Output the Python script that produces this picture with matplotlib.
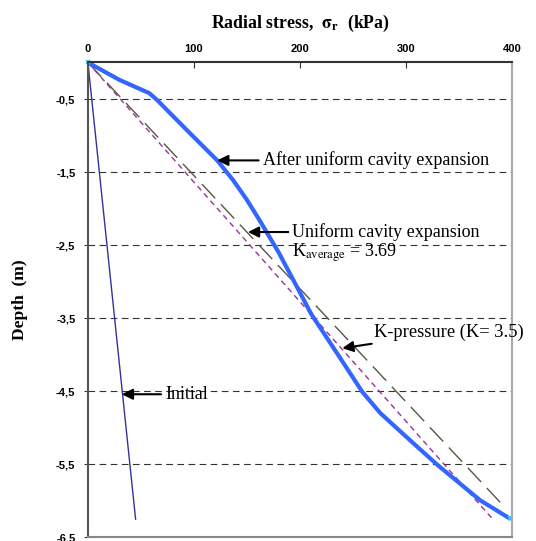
import matplotlib
matplotlib.use('Agg')
import matplotlib.pyplot as plt

# Radial stress (kPa) vs depth (m)
after_x = [0, 30, 58, 65, 93, 122, 137, 150, 162, 180, 195, 211, 236, 259, 276, 307, 330, 370, 398]
after_y = [0, -0.24, -0.42, -0.51, -0.92, -1.34, -1.61, -1.88, -2.16, -2.6, -3.01, -3.45, -4.0, -4.51,
           -4.8, -5.21, -5.51, -5.99, -6.24]
uniform_x = [0, 382]
uniform_y = [0, -6.25]
kpress_x = [0, 391]
kpress_y = [0, -6.05]
initial_x = [0, 45]
initial_y = [0, -6.25]

xticks = [0, 100, 200, 300, 400]
yticks = [-0.5, -1.5, -2.5, -3.5, -4.5, -5.5, -6.5]
ytick_labels = ['-0,5', '-1,5', '-2,5', '-3,5', '-4,5', '-5,5', '-6,5']

serif = 'Liberation Serif'
plt.rcParams['mathtext.fontset'] = 'stix'

fig = plt.figure(figsize=(5.36, 5.41), dpi=100)
ax = fig.add_axes([0.164, 0.0065, 0.791, 0.878])

ax.plot(initial_x, initial_y, color='#333399', lw=1.0)
ax.plot(kpress_x, kpress_y, color='#55583f', lw=1.0, dashes=(14, 6))
ax.plot(uniform_x, uniform_y, color='#993399', lw=1.0, dashes=(4, 3))
ax.plot(after_x, after_y, color='#3366ff', lw=3.0, solid_capstyle='round', solid_joinstyle='round')
ax.plot([after_x[0], after_x[-1]], [after_y[0], after_y[-1]], ls='none', marker='x',
        color='#33ccff', ms=3, mew=1.2, clip_on=False)

ax.set_xlim(0, 400)
ax.set_ylim(-6.5, 0)
ax.xaxis.tick_top()
ax.set_xticks(xticks)
ax.set_xticklabels([str(t) for t in xticks], fontsize=8, fontweight='bold', family='Liberation Sans')
ax.set_yticks(yticks)
ax.set_yticklabels(ytick_labels, fontsize=8, fontweight='bold', family='Liberation Sans')
ax.tick_params(axis='x', direction='in', length=4, pad=6, colors='#333333')
ax.tick_params(axis='y', direction='out', length=3, pad=6, colors='#333333')
for t in ax.get_xticklabels() + ax.get_yticklabels():
    t.set_color('black')
ax.yaxis.grid(True, color='#333333', ls=(0, (6, 4)), lw=0.8)

ax.spines['top'].set_color('#333333')
ax.spines['left'].set_color('#555555')
ax.spines['right'].set_color('#aaaaaa')
ax.spines['bottom'].set_color('#888888')
for s in ax.spines.values():
    s.set_linewidth(1.5)

ax.set_xlabel(r'Radial stress,  $\mathbf{\sigma_r}$  (kPa)', family=serif, fontsize=12.8,
              fontweight='bold', labelpad=12)
ax.xaxis.set_label_position('top')
ax.set_ylabel('Depth  (m)', family=serif, fontsize=12.5, fontweight='bold', labelpad=20)

arrow = dict(arrowstyle='-|>', color='black', lw=1.5, mutation_scale=16, shrinkA=1, shrinkB=0)
ax.annotate('After uniform cavity expansion', xy=(122, -1.34), xytext=(165, -1.34),
            fontsize=13, family=serif, va='center', arrowprops=arrow)
ax.annotate('Uniform cavity expansion', xy=(151, -2.32), xytext=(193, -2.32),
            fontsize=13, family=serif, va='center', arrowprops=arrow)
ax.text(193, -2.6, r'K$_{\mathrm{average}}$ = 3.69', fontsize=13, family=serif, va='center')
ax.annotate('K-pressure (K= 3.5)', xy=(240, -3.91), xytext=(270, -3.69),
            fontsize=13.3, family=serif, va='center', arrowprops=arrow)
ax.annotate('Initial', xy=(32, -4.54), xytext=(73, -4.54),
            fontsize=13, family=serif, va='center', arrowprops=arrow)

fig.savefig('out.png', dpi=100)
